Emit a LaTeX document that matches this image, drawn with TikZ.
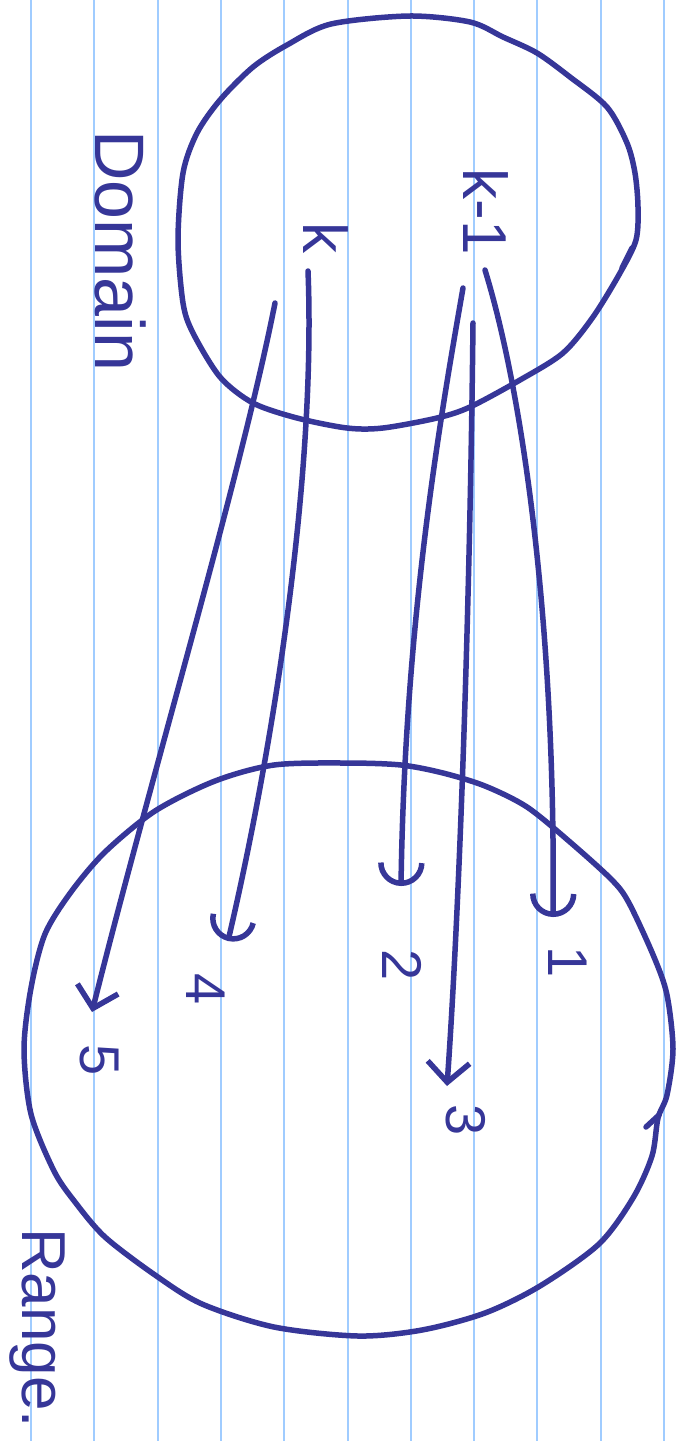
\documentclass[tikz,border=0pt]{standalone}
\usepackage{fontspec}
\setmainfont{Liberation Sans}
\usetikzlibrary{arrows.meta}
\definecolor{inkblue}{RGB}{54,54,152}
\definecolor{ruled}{RGB}{160,204,255}

\begin{document}
\begin{tikzpicture}[x=1pt, y=-1pt,
  pen/.style={draw=inkblue, line width=5.5pt, line cap=round, line join=round},
  ruling/.style={draw=ruled, line width=2pt},
  word/.style={text=inkblue, rotate=-90, inner sep=0pt, font=\fontsize{70}{80}\selectfont},
  var/.style={text=inkblue, rotate=-90, inner sep=0pt, font=\fontsize{62}{72}\selectfont},
  digit/.style={text=inkblue, rotate=-90, inner sep=0pt, font=\fontsize{56}{64}\selectfont},
  cup/.style={pen, -{Arc Barb[length=16pt, width=32pt, scale=1.45]}},
  barb/.style={pen, -{Straight Barb[length=20pt, width=42pt]}}
]
  \fill[white] (0,0) rectangle (684,1441);
  \useasboundingbox (0,0) rectangle (684,1441);

  % ruled paper
  \foreach \i in {0,...,10}
    \draw[ruling] ({31+63.3*\i},0) -- ++(0,1441);

  % domain blob
  \draw[pen] plot[smooth cycle] coordinates {
    (638,207) (635,173) (627,143) (607,107) (570,77) (537,53) (503,37)
    (470,22) (409,16) (331,24) (287,45) (253,67) (220,100) (197,133)
    (183,173) (178,240) (183,303) (193,333) (220,377) (253,403) (297,418)
    (347,428) (383,428) (437,418) (470,407) (520,380) (563,353) (593,317)
    (620,273) (636,240)};
  \draw[pen] (622,268) -- (632,248);

  % range blob
  \draw[pen] plot[smooth cycle] coordinates {
    (673,1049) (667,995) (654,957) (629,903) (612,880) (570,842) (527,807)
    (485,786) (443,773) (401,765) (346,763) (274,765) (215,781) (155,811)
    (105,852) (71,892) (45,934) (31,988) (24,1049) (31,1114) (54,1171)
    (75,1202) (105,1237) (155,1275) (202,1304) (274,1327) (358,1336)
    (422,1330) (485,1313) (540,1286) (599,1244) (633,1198) (652,1156)
    (658,1118) (667,1095)};
  \draw[pen] (646,1127) -- (659,1115);

  % labels
  \node[word, anchor=base west] (dom) at (95,130) {Domain};
  \node[word, anchor=base west, font=\fontsize{62}{72}\selectfont] (rng) at (22,1228) {Range.};

  \node[var] (km1) at (486,212) {k-1};
  \node[var] (kk) at (326,238) {k};

  \node[digit] (n1) at (568,962) {1};
  \node[digit] (n2) at (402,965) {2};
  \node[digit] (n3) at (466,1120) {3};
  \node[digit] (n4) at (206,989) {4};
  \node[digit] (n5) at (99,1060) {5};

  % mapping
  \draw[cup] ([shift={(-1,58)}]km1.center) .. controls (525,400) and (556,640) .. ([shift={(-15,-45)}]n1.center);
  \draw[cup] ([shift={(-23,76)}]km1.center) .. controls (440,420) and (405,620) .. ([shift={(-1,-79)}]n2.center);
  \draw[barb] ([shift={(-13,111)}]km1.center) .. controls (470,600) and (460,900) .. ([shift={(-19,-34)}]n3.center);
  \draw[cup] ([shift={(-18,33)}]kk.center) .. controls (316,470) and (275,740) .. ([shift={(22,-48)}]n4.center);
  \draw[barb] ([shift={(-51,65)}]kk.center) .. controls (240,480) and (150,780) .. ([shift={(-7,-48)}]n5.center);
\end{tikzpicture}
\end{document}
